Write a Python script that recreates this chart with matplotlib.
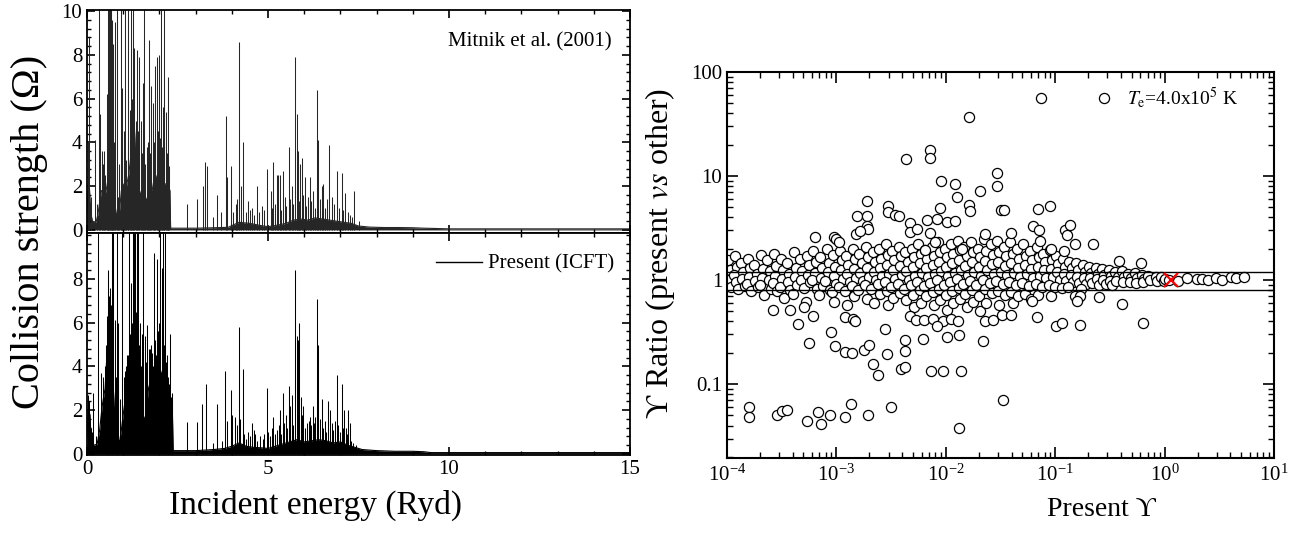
import numpy as np
import matplotlib
matplotlib.use('Agg')
import matplotlib.pyplot as plt
from matplotlib.ticker import MultipleLocator, FixedLocator, FixedFormatter, LogLocator, NullFormatter

plt.rcParams['font.family'] = ['Liberation Serif', 'DejaVu Serif']
plt.rcParams['mathtext.fontset'] = 'stix'

# ---- left: collision strength spectra ----
# dense envelope of the resonance region, Mitnik et al. (top)
top_env_e = [0.0, 0.05, 0.1, 0.15, 0.25, 0.3, 0.4, 0.5, 0.55, 0.6, 0.7, 0.75, 0.8, 0.85, 0.9, 0.95,
             1.0, 1.05, 1.1, 1.15, 1.2, 1.25, 1.3, 1.35, 1.4, 1.45, 1.5, 1.55, 1.6, 1.65, 1.7, 1.75,
             1.8, 1.85, 1.9, 1.95, 2.0, 2.05, 2.1, 2.15, 2.2, 2.25, 2.29, 2.31, 3.0, 3.5, 3.9, 4.2,
             4.5, 4.8, 5.0, 5.2, 5.5, 5.7, 5.9, 6.1, 6.3, 6.5, 6.7, 6.9, 7.1, 7.3, 7.5, 7.8, 8.2,
             8.6, 9.0, 9.3, 10.0, 15.0]
top_env_v = [0.8, 2.5, 0.8, 0.4, 0.35, 0.7, 1.8, 1.6, 2.0, 2.5, 2.3, 1.5, 0.8, 0.5, 0.9, 1.8,
             2.1, 1.5, 2.1, 2.5, 3.2, 4.2, 5.0, 3.2, 2.5, 1.8, 1.5, 2.0, 1.6, 1.3, 1.6, 2.0,
             1.8, 2.3, 2.5, 2.1, 2.1, 2.5, 2.3, 2.1, 2.1, 2.0, 1.8, 0.08, 0.08, 0.1, 0.12, 0.35,
             0.3, 0.2, 0.15, 0.2, 0.3, 0.45, 0.5, 0.45, 0.55, 0.5, 0.45, 0.4, 0.35, 0.3, 0.18, 0.13, 0.11,
             0.11, 0.1, 0.08, 0.05, 0.05]
top_peak_e = [0.04, 0.06, 0.22, 0.34, 0.36, 0.41, 0.47, 0.54, 0.59, 0.62, 0.64, 0.65, 0.68, 0.73,
              0.77, 0.82, 0.88, 0.93, 0.98, 1.05, 1.08, 1.14, 1.21, 1.26, 1.31, 1.37, 1.45, 1.49,
              1.56, 1.57, 1.65, 1.70, 1.77, 1.81, 1.88, 1.92, 1.97, 2.00, 2.04, 2.09, 2.14, 2.17,
              2.23, 2.27,
              0.02, 0.10, 0.27, 0.44, 0.50, 0.57, 0.70, 0.75, 0.85, 0.96, 1.02, 1.12, 1.18, 1.24,
              1.34, 1.41, 1.52, 1.60, 1.68, 1.74, 1.84, 1.95, 2.02, 2.07, 2.12, 2.20, 2.25,
              2.77, 3.03, 3.21, 3.26, 3.32, 3.49, 3.58, 3.69, 3.83, 3.86, 3.98, 4.04, 4.12, 4.15,
              4.21, 4.25, 4.32, 4.46, 4.55, 4.69, 4.83, 4.98, 5.07, 5.15, 5.24, 5.28, 5.33, 5.42,
              5.47, 5.57, 5.65, 5.75, 5.79, 5.82, 5.88, 5.95, 6.02, 6.10, 6.16, 6.25, 6.35, 6.39,
              6.48, 6.53, 6.62, 6.69, 6.76, 6.90, 7.04, 7.13, 7.27, 7.38, 7.50,
              4.38, 4.50, 4.62, 4.75, 4.90, 5.10, 5.20, 5.36, 5.50, 5.60, 5.70, 5.85, 5.98, 6.06,
              6.20, 6.30, 6.44, 6.58, 6.82, 6.96, 7.08, 7.20, 7.33]
top_peak_v = [4.0, 8.8, 4.1, 12, 5.3, 3.6, 3.6, 6.2, 12, 12, 12, 12, 9.6, 8.5,
              9.5, 12, 3.0, 12, 6.5, 12, 3.2, 12, 12, 12, 8.3, 8.2, 7.9, 5.0,
              6.7, 12, 3.8, 8.7, 6.6, 5.8, 7.5, 7.9, 4.5, 8.0, 12, 5.6, 12, 5.4,
              7.0, 2.9,
              2.5, 1.5, 1.2, 3.0, 2.5, 4.0, 5.5, 4.0, 1.5, 3.5, 4.5, 4.0, 5.5, 6.0,
              5.0, 4.5, 3.5, 3.0, 4.0, 3.5, 4.0, 3.5, 4.2, 3.8, 4.0, 3.5, 3.0,
              1.2, 1.4, 2.0, 3.1, 2.9, 0.6, 1.6, 0.8, 5.2, 2.4, 2.9, 0.8, 1.2, 1.4,
              8.6, 2.0, 4.0, 1.3, 1.0, 2.0, 1.1, 2.8, 1.8, 3.1, 2.5, 2.5, 2.5, 2.7,
              1.5, 3.8, 2.0, 7.9, 5.3, 3.6, 3.0, 3.3, 2.4, 1.5, 2.4, 1.8, 6.4, 4.1,
              2.0, 2.1, 1.4, 3.9, 1.5, 2.7, 2.6, 1.7, 0.7, 1.8, 0.4,
              0.8, 0.9, 0.7, 0.8, 0.9, 1.0, 1.2, 0.9, 1.1, 1.4, 1.2, 1.3, 1.6, 1.1,
              1.3, 1.0, 1.4, 1.0, 1.2, 1.0, 0.9, 0.8, 0.6]

# present ICFT (bottom)
bot_env_e = [0.0, 0.03, 0.08, 0.12, 0.2, 0.28, 0.35, 0.42, 0.5, 0.55, 0.6, 0.65, 0.7, 0.75, 0.8,
             0.85, 0.9, 0.95, 1.0, 1.05, 1.1, 1.15, 1.2, 1.25, 1.3, 1.35, 1.4, 1.45, 1.5, 1.55,
             1.6, 1.65, 1.7, 1.75, 1.8, 1.85, 1.9, 1.95, 2.0, 2.05, 2.1, 2.15, 2.2, 2.25, 2.3,
             2.36, 2.38, 3.0, 3.5, 3.8, 4.0, 4.2, 4.4, 4.6, 4.8, 5.0, 5.2, 5.4, 5.6, 5.8, 6.0,
             6.2, 6.4, 6.6, 6.8, 7.0, 7.2, 7.4, 7.6, 8.0, 8.5, 9.0, 9.3, 9.5, 15.0]
bot_env_v = [0.8, 2.0, 1.8, 0.5, 0.4, 0.45, 1.1, 2.2, 3.0, 4.5, 5.2, 4.8, 4.0, 2.2, 1.1,
             0.7, 0.55, 1.1, 1.8, 2.4, 2.6, 3.0, 3.7, 4.5, 4.8, 4.5, 4.0, 3.0, 2.2, 1.8,
             1.5, 2.2, 3.0, 3.3, 2.6, 3.3, 3.3, 3.7, 4.0, 3.7, 3.5, 3.1, 2.6, 2.2, 2.0,
             1.8, 0.15, 0.15, 0.2, 0.25, 0.35, 0.5, 0.35, 0.3, 0.28, 0.25, 0.35, 0.45, 0.55, 0.65,
             0.55, 0.6, 0.65, 0.6, 0.5, 0.55, 0.4, 0.3, 0.2, 0.15, 0.12, 0.12, 0.1, 0.06, 0.06]
bot_peak_e = [0.17, 0.31, 0.39, 0.50, 0.54, 0.59, 0.64, 0.68, 0.73, 0.77, 0.82, 0.87, 0.91, 0.98,
              1.05, 1.10, 1.17, 1.21, 1.26, 1.30, 1.33, 1.37, 1.42, 1.46, 1.51, 1.56, 1.61, 1.67,
              1.74, 1.79, 1.85, 1.90, 1.94, 2.02, 2.06, 2.11, 2.15, 2.20, 2.25, 2.29, 2.34,
              0.02, 0.06, 0.10, 0.14, 0.24, 0.45, 0.52, 0.57, 0.62, 0.66, 0.71, 0.79, 0.96, 1.02,
              1.08, 1.13, 1.19, 1.24, 1.28, 1.35, 1.40, 1.44, 1.49, 1.54, 1.59, 1.64, 1.70, 1.77,
              1.82, 1.88, 1.97, 2.00, 2.09, 2.13, 2.18, 2.23, 2.27, 2.32, 2.36,
              2.75, 3.03, 3.19, 3.29, 3.49, 3.58, 3.72, 3.81, 3.86, 3.98, 4.01, 4.09, 4.13, 4.21,
              4.24, 4.30, 4.46, 4.55, 4.64, 4.78, 4.96, 5.01, 5.15, 5.24, 5.33, 5.42, 5.50, 5.57,
              5.61, 5.67, 5.75, 5.79, 5.82, 5.87, 5.91, 5.98, 6.07, 6.16, 6.25, 6.31, 6.35, 6.39,
              6.48, 6.57, 6.67, 6.71, 6.76, 6.90, 6.94, 7.04, 7.10, 7.15, 7.22, 7.27, 7.36,
              4.35, 4.40, 4.50, 4.60, 4.70, 4.85, 4.90, 5.05, 5.10, 5.20, 5.30, 5.37, 5.45, 5.53,
              5.60, 5.70, 5.85, 5.95, 6.03, 6.12, 6.20, 6.28, 6.43, 6.52, 6.60, 6.80, 6.85, 6.98,
              7.07, 7.18, 7.30, 7.42]
bot_peak_v = [2.8, 12, 3.7, 4.0, 6.3, 8.4, 7.6, 12, 12, 6.1, 12, 6.0, 2.5, 12,
              3.8, 4.5, 12, 7.8, 12, 12, 12, 12, 12, 6.0, 5.5, 12, 5.4, 5.9,
              4.8, 4.6, 9.2, 4.5, 8.9, 12, 8.5, 12, 12, 4.5, 3.0, 5.5, 2.8,
              2.7, 2.4, 1.2, 1.0, 0.8, 3.5, 5.0, 6.5, 7.2, 6.8, 5.5, 3.5, 2.5, 3.5,
              4.0, 4.5, 5.5, 6.0, 6.8, 6.5, 5.8, 5.0, 4.0, 3.0, 3.5, 4.2, 4.8, 5.0,
              4.0, 5.2, 5.6, 6.0, 5.5, 5.0, 4.2, 3.5, 3.2, 2.6, 2.4,
              1.45, 1.45, 2.3, 3.2, 0.5, 2.3, 0.6, 3.8, 1.5, 2.9, 1.8, 1.7, 1.3, 5.8,
              1.6, 3.9, 1.0, 1.4, 0.9, 0.8, 3.0, 1.0, 1.7, 1.1, 2.0, 2.8, 1.8, 3.1,
              2.2, 2.7, 8.4, 5.4, 5.2, 6.0, 2.6, 2.2, 1.4, 1.7, 2.2, 1.7, 7.1, 5.0,
              2.5, 1.5, 2.4, 2.0, 1.4, 3.6, 1.3, 3.2, 2.0, 1.2, 2.0, 1.4, 0.5,
              0.9, 0.7, 0.8, 1.1, 0.6, 0.7, 0.9, 0.8, 1.2, 0.9, 1.3, 0.9, 1.4, 1.2,
              1.6, 1.3, 1.5, 1.8, 1.2, 1.5, 1.3, 1.4, 1.6, 1.2, 1.0, 1.1, 1.5, 1.0,
              1.2, 0.9, 0.6, 0.4]

# ---- right: Upsilon ratio vs present Upsilon (log10 of x, ratio) ----
band_logx = [
    -3.99, -3.97, -3.98, -3.96, -3.93, -3.91, -3.94, -3.92, -3.90,
    -3.87, -3.85, -3.86, -3.84, -3.81, -3.79, -3.80, -3.82, -3.78,
    -3.75, -3.73, -3.74, -3.72, -3.69, -3.67, -3.68, -3.70, -3.66,
    -3.63, -3.61, -3.62, -3.60, -3.57, -3.55, -3.56, -3.58, -3.54,
    -3.51, -3.49, -3.50, -3.52, -3.48, -3.45, -3.43, -3.44, -3.42,
    -3.39, -3.37, -3.38, -3.36, -3.40, -3.33, -3.31, -3.32, -3.30,
    -3.27, -3.25, -3.26, -3.24, -3.28, -3.21, -3.19, -3.20, -3.22, -3.18,
    -3.15, -3.13, -3.14, -3.12, -3.16, -3.09, -3.07, -3.08, -3.10, -3.06,
    -3.03, -3.01, -3.02, -3.00, -3.04, -3.02,
    -2.97, -2.95, -2.96, -2.94, -2.98,
    -2.91, -2.89, -2.90, -2.88, -2.92, -2.90,
    -2.85, -2.83, -2.84, -2.82, -2.86, -2.84,
    -2.79, -2.77, -2.78, -2.76, -2.80,
    -2.73, -2.71, -2.72, -2.70, -2.74, -2.72,
    -2.67, -2.65, -2.66, -2.64, -2.68, -2.66,
    -2.61, -2.59, -2.60, -2.58, -2.62, -2.60,
    -2.55, -2.53, -2.54, -2.52, -2.56, -2.54, -2.53,
    -2.49, -2.47, -2.48, -2.46, -2.50, -2.48,
    -2.43, -2.41, -2.42, -2.40, -2.44, -2.42,
    -2.37, -2.35, -2.36, -2.34, -2.38, -2.36,
    -2.31, -2.29, -2.30, -2.28, -2.32, -2.30, -2.29,
    -2.25, -2.23, -2.24, -2.22, -2.26, -2.24, -2.23,
    -2.19, -2.17, -2.18, -2.16, -2.20, -2.18,
    -2.13, -2.11, -2.12, -2.10, -2.14, -2.12, -2.11,
    -2.07, -2.05, -2.06, -2.04, -2.08, -2.06, -2.05,
    -2.01, -1.99, -2.00, -1.98, -2.02, -2.00, -1.99,
    -1.95, -1.93, -1.94, -1.92, -1.96, -1.94, -1.93,
    -1.89, -1.87, -1.88, -1.86, -1.90, -1.88, -1.87,
    -1.83, -1.81, -1.82, -1.80, -1.84, -1.82, -1.81,
    -1.77, -1.75, -1.76, -1.74, -1.78, -1.76, -1.75,
    -1.71, -1.69, -1.70, -1.68, -1.72, -1.70, -1.69,
    -1.65, -1.63, -1.64, -1.62, -1.66, -1.64, -1.63,
    -1.59, -1.57, -1.58, -1.56, -1.60, -1.58,
    -1.53, -1.51, -1.52, -1.50, -1.54, -1.52, -1.51,
    -1.47, -1.45, -1.46, -1.44, -1.48, -1.46,
    -1.41, -1.39, -1.40, -1.38, -1.42, -1.40, -1.39,
    -1.35, -1.33, -1.34, -1.32, -1.36, -1.34,
    -1.29, -1.27, -1.28, -1.26, -1.30, -1.28,
    -1.23, -1.21, -1.22, -1.20, -1.24, -1.22,
    -1.17, -1.15, -1.16, -1.14, -1.18, -1.16,
    -1.11, -1.09, -1.10, -1.08, -1.12,
    -1.05, -1.03, -1.04, -1.02, -1.06, -1.04,
    -0.99, -0.97, -0.98, -0.96, -1.00,
    -0.93, -0.91, -0.92, -0.90, -0.94,
    -0.87, -0.85, -0.86, -0.84, -0.88,
    -0.81, -0.79, -0.80, -0.78,
    -0.75, -0.73, -0.74, -0.72, -0.76,
    -0.69, -0.67, -0.68, -0.66,
    -0.63, -0.61, -0.62, -0.60,
    -0.57, -0.55, -0.56, -0.54,
    -0.51, -0.49, -0.50, -0.48,
    -0.45, -0.43, -0.44,
    -0.39, -0.37, -0.38,
    -0.33, -0.31, -0.32,
    -0.27, -0.25, -0.26,
    -0.21, -0.19, -0.20,
    -0.15, -0.13, -0.08, -0.07, -0.03, -0.01,
    0.00, 0.04, 0.126, 0.205, 0.293, 0.339, 0.394, 0.467, 0.527, 0.604, 0.65, 0.723]
band_y = [
    1.55, 1.25, 1.00, 0.85, 1.70, 1.35, 1.12, 0.95, 0.82,
    1.45, 1.20, 1.02, 0.88, 1.60, 1.30, 1.08, 0.92, 0.78,
    1.40, 1.15, 0.98, 0.85, 1.75, 1.28, 1.05, 0.90, 0.72,
    1.55, 1.22, 1.00, 0.82, 1.80, 1.38, 1.10, 0.93, 0.78,
    1.60, 1.25, 1.02, 0.86, 0.68, 1.45, 1.15, 0.96, 0.80,
    1.85, 1.32, 1.08, 0.90, 0.74, 1.60, 1.22, 1.00, 0.84,
    1.70, 1.40, 1.12, 0.95, 0.62, 1.90, 1.50, 1.18, 1.00, 0.82,
    1.65, 1.30, 1.05, 0.88, 0.72, 2.00, 1.45, 1.20, 0.98, 0.80,
    1.75, 1.35, 1.10, 0.92, 0.76, 0.62,
    1.90, 1.55, 1.25, 1.02, 0.85,
    1.70, 1.40, 1.15, 0.95, 0.78, 0.58,
    2.00, 1.60, 1.28, 1.05, 0.88, 0.70,
    1.80, 1.45, 1.18, 0.98, 0.80,
    2.10, 1.65, 1.30, 1.08, 0.90, 0.66,
    1.85, 1.50, 1.20, 1.00, 0.82, 0.60,
    2.00, 1.60, 1.32, 1.10, 0.92, 0.74,
    2.20, 1.75, 1.40, 1.15, 0.95, 0.78, 0.58,
    1.90, 1.55, 1.25, 1.02, 0.85, 0.68,
    2.10, 1.70, 1.38, 1.12, 0.92, 0.75,
    1.85, 1.50, 1.22, 1.00, 0.82, 0.64,
    2.00, 1.65, 1.35, 1.10, 0.90, 0.72, 0.55,
    2.20, 1.80, 1.45, 1.18, 0.96, 0.80, 0.60,
    1.95, 1.60, 1.30, 1.06, 0.88, 0.70,
    2.10, 1.70, 1.40, 1.14, 0.94, 0.76, 0.58,
    2.30, 1.85, 1.50, 1.22, 1.00, 0.82, 0.64,
    2.00, 1.65, 1.35, 1.10, 0.90, 0.72, 0.52,
    2.20, 1.80, 1.45, 1.18, 0.96, 0.78, 0.60,
    2.40, 1.95, 1.55, 1.26, 1.02, 0.84, 0.66,
    2.10, 1.70, 1.38, 1.12, 0.92, 0.74, 0.55,
    2.30, 1.85, 1.50, 1.20, 0.98, 0.80, 0.62,
    2.00, 1.65, 1.35, 1.10, 0.90, 0.70, 0.50,
    2.50, 1.90, 1.52, 1.24, 1.00, 0.82, 0.60,
    2.20, 1.75, 1.42, 1.15, 0.94, 0.75,
    2.40, 1.85, 1.48, 1.20, 0.97, 0.78, 0.58,
    2.10, 1.70, 1.38, 1.12, 0.92, 0.72,
    2.30, 1.80, 1.45, 1.18, 0.96, 0.76, 0.60,
    2.00, 1.60, 1.32, 1.08, 0.90, 0.70,
    2.20, 1.72, 1.40, 1.14, 0.94, 0.74,
    1.90, 1.55, 1.28, 1.05, 0.88, 0.66,
    2.10, 1.65, 1.35, 1.10, 0.92, 0.72,
    1.80, 1.50, 1.25, 1.04, 0.86,
    1.95, 1.55, 1.28, 1.06, 0.90, 0.70,
    1.70, 1.42, 1.20, 1.00, 0.85,
    1.60, 1.35, 1.15, 0.98, 0.84,
    1.50, 1.30, 1.12, 0.96, 0.86,
    1.45, 1.25, 1.08, 0.94,
    1.40, 1.20, 1.05, 0.92, 0.82,
    1.35, 1.18, 1.04, 0.94,
    1.30, 1.15, 1.02, 0.90,
    1.28, 1.12, 1.00, 0.92,
    1.25, 1.10, 0.98, 0.90,
    1.20, 1.08, 0.97,
    1.22, 1.06, 0.95,
    1.15, 1.04, 0.96,
    1.18, 1.05, 0.94,
    1.12, 1.02, 0.95,
    1.10, 1.00, 1.08, 0.98, 1.06, 0.97,
    1.02, 1.00, 0.98, 1.04, 1.02, 1.03, 1.01, 1.05, 1.00, 1.06, 1.04, 1.06]

out_logx = [-1.13, -1.79, -2.36, -2.14, -2.14, -2.04, -1.92, -1.90, -1.79, -1.78, -2.72, -2.81,
            -2.72, -2.72, -2.71, -2.82, -2.78, -2.53, -2.53, -2.46, -2.43, -2.33, -2.33, -2.26,
            -2.17, -2.14, -2.10, -2.08, -2.05, -1.99, -1.92, -1.855, -3.20, -3.02, -3.00, -2.98,
            -2.19, -1.69, -1.53, -1.535, -1.50, -1.47, -1.155, -1.05, -1.64, -1.40, -1.20,
            -1.145, -1.14, -0.91, -0.895, -0.865, -1.04, -0.92, -0.82, -0.65, -0.417, -0.22,
            -3.80, -3.80, -3.545, -3.50, -3.45, -3.27, -3.17, -3.14, -3.06, -2.92, -2.87, -2.71,
            -2.50, -1.88, -3.25, -3.05, -3.01, -2.92, -2.855, -2.75, -2.70, -2.67, -2.62, -2.56,
            -2.535, -2.41, -2.37, -2.37, -2.37, -2.205, -2.135, -2.03, -1.86, -1.99, -1.88,
            -3.35, -3.58, -3.42, -3.30, -3.21, -2.92, -2.845, -2.83, -2.33, -2.27, -2.20, -2.12,
            -2.03, -1.95, -1.89, -1.48, -1.66, -1.165, -0.99, -0.94, -0.77, -0.20, -0.39, -0.60,
            -0.82, -0.77, -0.80, -1.64, -1.57, -1.49, -1.40, -1.21, -2.08]
out_y = [56, 37, 14.5, 17.8, 14.8, 9.0, 8.3, 6.3, 5.3, 4.6, 5.8, 4.1,
         4.1, 3.3, 3.1, 2.75, 2.95, 5.2, 4.5, 4.2, 4.15, 3.5, 2.9, 3.1,
         3.8, 2.85, 2.3, 3.9, 4.9, 3.6, 3.7, 2.0, 2.6, 2.6, 2.5, 2.3,
         1.95, 7.2, 10.6, 8.0, 4.7, 4.7, 4.8, 5.2, 2.8, 2.85, 3.3,
         3.0, 2.4, 3.0, 2.7, 3.4, 2.0, 1.9, 2.2, 2.2, 1.53, 1.47,
         0.060, 0.048, 0.051, 0.055, 0.056, 0.044, 0.054, 0.041, 0.050, 0.048, 0.064, 0.050,
         0.0605, 0.038, 0.25, 0.32, 0.23, 0.205, 0.197, 0.215, 0.237, 0.155, 0.122, 0.34,
         0.193, 0.141, 0.145, 0.265, 0.21, 0.27, 0.134, 0.134, 0.134, 0.285, 0.295,
         0.38, 0.52, 0.52, 0.55, 0.45, 0.44, 0.42, 0.40, 0.45, 0.41, 0.41, 0.42,
         0.40, 0.42, 0.40, 0.071, 0.26, 0.44, 0.36, 0.39, 0.37, 0.39, 0.59, 0.69,
         0.70, 0.71, 0.63, 0.40, 0.41, 0.46, 0.46, 0.63, 0.36]

cross_x = [1.15]
cross_y = [1.0]
ref_lines = [1.2, 0.8]

# ---- figure ----
W, H = 1297, 533
fig = plt.figure(figsize=(W / 100, H / 100), dpi=100)
ax_top = fig.add_axes([87 / W, 1 - 233 / H, 543 / W, 223 / H])
ax_bot = fig.add_axes([87 / W, 1 - 455 / H, 543 / W, 222 / H])
ax_r = fig.add_axes([727 / W, 1 - 458 / H, 547 / W, 386 / H])

for ax, env_e, env_v, pk_e, pk_v, col in [
        (ax_top, top_env_e, top_env_v, top_peak_e, top_peak_v, '#262626'),
        (ax_bot, bot_env_e, bot_env_v, bot_peak_e, bot_peak_v, 'black')]:
    ax.fill_between(env_e, 0, env_v, color=col, lw=0)
    ax.plot(env_e, env_v, color=col, lw=0.8)
    ax.vlines(pk_e, 0, pk_v, color=col, lw=0.75)
    ax.set_xlim(0, 15)
    ax.xaxis.set_major_locator(MultipleLocator(5))
    ax.xaxis.set_minor_locator(MultipleLocator(1))
    ax.yaxis.set_major_locator(MultipleLocator(2))
    ax.yaxis.set_minor_locator(MultipleLocator(0.4))
    ax.tick_params(which='both', direction='in', top=True, right=True, labelsize=15)
    ax.tick_params(which='major', length=6, width=1.2)
    ax.tick_params(which='minor', length=3, width=1.0)
    for s in ax.spines.values():
        s.set_linewidth(1.3)

ax_top.set_ylim(-0.14, 10.05)
ax_top.set_yticks([0, 2, 4, 6, 8, 10])
ax_top.tick_params(labelbottom=False)
ax_top.text(0.966, 0.856, 'Mitnik et al. (2001)', transform=ax_top.transAxes,
            ha='right', va='center', fontsize=15)

ax_bot.set_ylim(-0.05, 10.1)
ax_bot.set_yticks([0, 2, 4, 6, 8])
ax_bot.plot([], [], color='black', lw=1, label='Present (ICFT)')
ax_bot.legend(loc='upper right', frameon=False, fontsize=15, handlelength=2.2,
              handletextpad=0.3, borderaxespad=0.3, bbox_to_anchor=(0.998, 0.97))
ax_bot.set_xlabel('Incident energy (Ryd)', fontsize=24, x=0.42, labelpad=8)
fig.text(30 / W, 1 - 232 / H, 'Collision strength (\u03a9)', rotation=90,
         ha='center', va='center', fontsize=29)

# right panel
ax_r.plot(10 ** np.array(band_logx), band_y, 'o', ms=7.3, mfc='white', mec='black', mew=0.9)
ax_r.plot(10 ** np.array(out_logx), out_y, 'o', ms=7.3, mfc='white', mec='black', mew=0.9,
          label=r'$T_{\rm e}$=4.0x10$^5$ K')
for yv in ref_lines:
    ax_r.axhline(yv, color='black', lw=1.0, zorder=5)
ax_r.plot(cross_x, cross_y, 'x', color='red', ms=10, mew=1.6, zorder=6)
ax_r.set_xscale('log')
ax_r.set_yscale('log')
ax_r.set_xlim(1e-4, 10)
ax_r.set_ylim(0.0195, 100)
ax_r.yaxis.set_major_locator(FixedLocator([0.1, 1, 10, 100]))
ax_r.yaxis.set_major_formatter(FixedFormatter(['0.1', '1', '10', '100']))
ax_r.yaxis.set_minor_locator(LogLocator(base=10, subs=np.arange(2, 10)))
ax_r.yaxis.set_minor_formatter(NullFormatter())
ax_r.xaxis.set_minor_locator(LogLocator(base=10, subs=np.arange(2, 10)))
ax_r.tick_params(which='both', direction='in', top=True, right=True, labelsize=15)
ax_r.tick_params(which='major', length=8, width=1.2)
ax_r.tick_params(which='minor', length=4, width=1.0)
ax_r.tick_params(axis='x', pad=5)
for s in ax_r.spines.values():
    s.set_linewidth(1.5)
ax_r.legend(loc='upper right', frameon=False, fontsize=14, numpoints=1, handlelength=1.2,
            handletextpad=0.6, borderaxespad=0.3, bbox_to_anchor=(0.96, 1.0))
ax_r.set_xlabel('Present \u03d2', fontsize=20, x=0.684, labelpad=8)
fig.text(660 / W, 1 - 253 / H, '\u03d2 Ratio (present $\\it{vs}$ other)', rotation=90,
         ha='center', va='center', fontsize=23)

fig.savefig('out.png', dpi=100)
